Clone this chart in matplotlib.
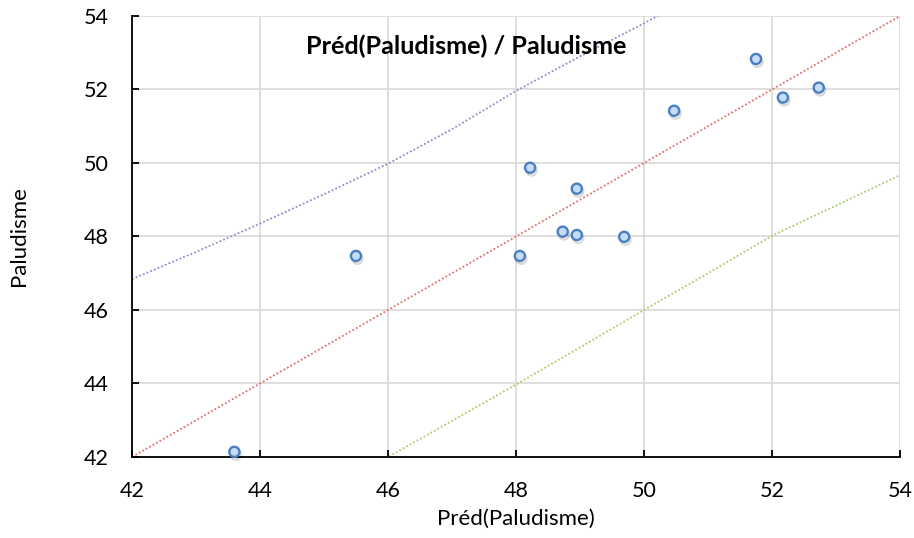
"""
Scatter of predicted vs observed Paludisme with y = x line and prediction bounds.
"""
import matplotlib.pyplot as plt
import matplotlib.patheffects as pe

# observed points (Préd(Paludisme), Paludisme)
pred = [43.60, 45.50, 48.06, 48.22, 48.73, 48.95, 48.95, 49.69, 50.47, 51.75, 52.17, 52.73]
obs = [42.14, 47.47, 47.47, 49.87, 48.13, 48.04, 49.30, 47.99, 51.42, 52.83, 51.78, 52.05]

# bounds
upper_x = [42, 43, 44, 45, 46, 47, 48, 49, 50, 51]
upper_y = [46.84, 47.58, 48.35, 49.15, 49.98, 50.92, 51.96, 52.90, 53.80, 54.75]
lower_x = [45.8, 46, 47, 48, 49, 50, 51, 52, 53, 54]
lower_y = [41.8, 42.00, 42.98, 43.97, 44.98, 46.00, 47.00, 48.02, 48.84, 49.67]
diag = [42, 54]

ticks = [42, 44, 46, 48, 50, 52, 54]

plt.rcParams['font.family'] = ['Lato', 'DejaVu Sans']

fig = plt.figure(figsize=(9.14, 5.38), dpi=100)
ax = fig.add_axes([0.1444, 0.1506, 0.8403, 0.8197])

ax.plot(upper_x, upper_y, ls=(0, (1, 1.2)), color='#9a85c8', lw=1.3)
ax.plot(diag, diag, ls=(0, (1, 1.2)), color='#e0706a', lw=1.3)
ax.plot(lower_x, lower_y, ls=(0, (1, 1.2)), color='#a9cc6a', lw=1.3)

ax.plot(pred, obs, ls='none', marker='o', ms=7.3, mfc='#c6dcf6', mec='#4a7fc1',
        mew=1.7, clip_on=False, zorder=5,
        path_effects=[pe.SimpleLineShadow(offset=(1, -2), shadow_color='k', alpha=0.15), pe.Normal()])

ax.set_xlim(42, 54)
ax.set_ylim(42, 54)
ax.set_xticks(ticks)
ax.set_yticks(ticks)
ax.grid(True, color='#d9d9d9', lw=1.2)
ax.set_axisbelow(True)
for s in ['top', 'right']:
    ax.spines[s].set_visible(False)
for s in ['left', 'bottom']:
    ax.spines[s].set_linewidth(1.3)
ax.tick_params(direction='in', length=5, width=1.3, labelsize=15.5, pad=17)

ax.text(0.435, 0.932, 'Préd(Paludisme) / Paludisme', transform=ax.transAxes,
        ha='center', va='center', fontsize=18.2, fontweight='bold')
ax.set_xlabel('Préd(Paludisme)', fontsize=16, labelpad=6)
ax.set_ylabel('Paludisme', fontsize=16, labelpad=39)

plt.savefig('out.png')
